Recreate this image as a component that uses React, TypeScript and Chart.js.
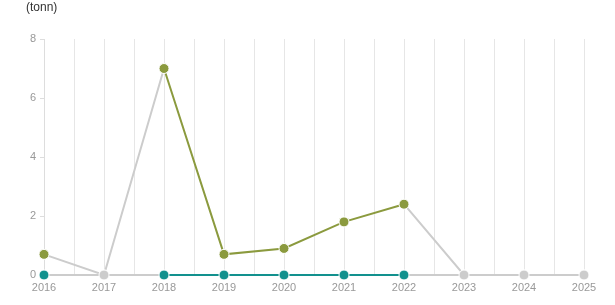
import React, { useEffect, useRef } from "react";
import { Chart, registerables } from "chart.js";

Chart.register(...registerables);

const years = [2016, 2017, 2018, 2019, 2020, 2021, 2022, 2023, 2024, 2025];
// null = no reported value (drawn as grey 0)
const mainValues = [0.7, null, 7, 0.7, 0.9, 1.8, 2.4, null, null, null];
const baseValues = [0, null, 0, 0, 0, 0, 0, null, null, null];
const yTicks = [0, 2, 4, 6, 8];
const unitLabel = "(tonn)";

const OLIVE = "#8b9a3e";
const TEAL = "#12918e";
const GREY = "#cccccc";

function makeDataset(values: (number | null)[], color: string, order: number) {
  const real = (i: number) => values[i] !== null && values[i] !== undefined;
  return {
    data: years.map((y, i) => ({ x: y, y: values[i] ?? 0 })),
    borderWidth: 2,
    borderColor: GREY,
    pointRadius: 5,
    pointHoverRadius: 5,
    pointBorderWidth: 1,
    pointBorderColor: "#ffffff",
    pointBackgroundColor: values.map((_, i) => (real(i) ? color : GREY)),
    segment: {
      borderColor: (ctx: any) => (real(ctx.p0DataIndex) && real(ctx.p1DataIndex) ? color : GREY),
    },
    tension: 0,
    clip: false,
    order,
  };
}

const titlePlugin = {
  id: "unitTitle",
  afterDraw(chart: any) {
    const ctx = chart.ctx;
    ctx.save();
    ctx.font = '12px "Liberation Sans", Arial, sans-serif';
    ctx.fillStyle = "#333333";
    ctx.textBaseline = "middle";
    ctx.textAlign = "left";
    ctx.fillText(unitLabel, 26, 8);
    ctx.restore();
  },
};

export default function App() {
  const ref = useRef<HTMLCanvasElement | null>(null);
  useEffect(() => {
    document.body.style.margin = "0";
    if (!ref.current) return;
    const chart = new Chart(ref.current, {
      type: "line",
      data: {
        datasets: [makeDataset(baseValues, TEAL, 0), makeDataset(mainValues, OLIVE, 1)] as any,
      },
      options: {
        animation: false,
        responsive: false,
        layout: { padding: { top: 39, right: 31, left: 0, bottom: 0 } },
        plugins: { legend: { display: false }, tooltip: { enabled: false }, title: { display: false } },
        scales: {
          x: {
            type: "linear",
            min: years[0],
            max: years[years.length - 1],
            afterFit: (s: any) => {
              s.height = 30;
            },
            afterBuildTicks: (s: any) => {
              const t: any[] = [];
              for (let i = 0; i < years.length; i++) {
                t.push({ value: years[i] });
                if (i < years.length - 1) t.push({ value: years[i] + 0.5 });
              }
              s.ticks = t;
            },
            ticks: {
              autoSkip: false,
              maxRotation: 0,
              padding: 6,
              color: "#999999",
              font: { family: '"Liberation Sans", Arial, sans-serif', size: 11 },
              callback: (v: any) => (Number.isInteger(v) ? String(v) : ""),
            },
            grid: { color: "#e6e6e6", lineWidth: 1, drawTicks: false, tickLength: 0 },
            border: { display: false },
          },
          y: {
            min: 0,
            max: 8,
            z: 1,
            afterFit: (s: any) => {
              s.width = 44;
            },
            afterBuildTicks: (s: any) => {
              s.ticks = yTicks.map((v) => ({ value: v }));
            },
            ticks: {
              padding: 4,
              color: "#999999",
              font: { family: '"Liberation Sans", Arial, sans-serif', size: 11 },
            },
            grid: { drawOnChartArea: false, drawTicks: true, tickLength: 4, color: "#dddddd" },
            border: { display: true, color: "#dddddd", width: 1 },
          },
        },
      } as any,
      plugins: [titlePlugin],
    });
    return () => chart.destroy();
  }, []);
  return <canvas ref={ref} width={615} height={305} style={{ display: "block" }} />;
}
